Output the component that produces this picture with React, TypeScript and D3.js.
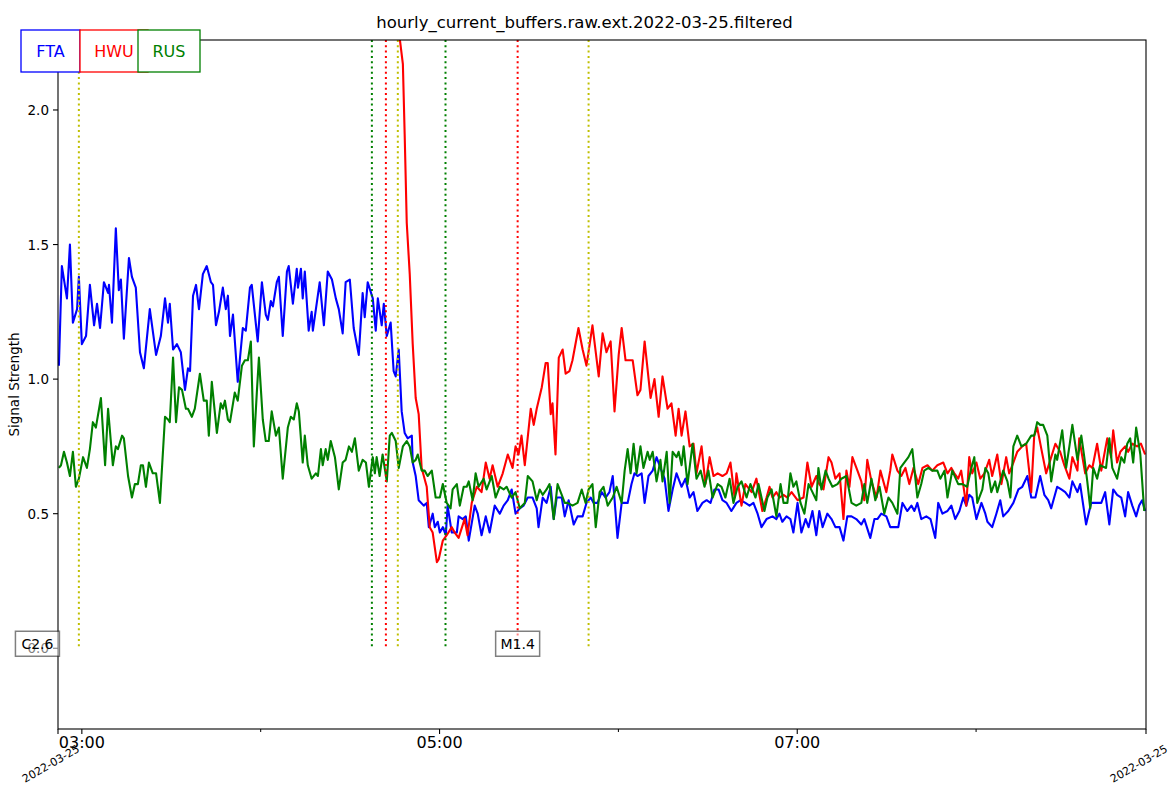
import * as d3 from 'd3';

const TITLE = 'hourly_current_buffers.raw.ext.2022-03-25.filtered';
const Y_LABEL = 'Signal Strength';

// readings are [minutes after START, signal strength]
const START = Date.UTC(2022, 2, 25, 2, 52);
const END_MIN = 365;

const FTA: [number, number][] = [
  [0.3,1.05],[1.3,1.42],[3,1.30],[4,1.50],[5,1.21],[6.4,1.26],[7,1.38],[8,1.13],[9.4,1.16],[10.7,1.35],[12.1,1.20],[13.1,1.28],[14.1,1.19],[15.4,1.36],[16.8,1.32],[17.1,1.35],[18.1,1.21],[19.4,1.56],[20.4,1.33],[21.1,1.37],[22.1,1.15],[23.8,1.45],[24.8,1.38],[26.1,1.34],[27.5,1.10],[28.8,1.04],[30.8,1.26],[32.9,1.09],[34.5,1.16],[35.9,1.30],[36.9,1.21],[37.5,1.28],[38.6,1.11],[39.9,1.13],[41.2,1.10],[42.6,0.96],[43.6,1.04],[44.3,1.03],[45.3,1.31],[46.3,1.35],[47.3,1.26],[48.6,1.39],[49.9,1.42],[51.3,1.36],[52.0,1.35],[53.0,1.20],[54.0,1.25],[55.3,1.34],[56.3,1.26],[57.0,1.31],[57.7,1.16],[58.7,1.24],[60.3,0.99],[62.0,1.19],[63.0,1.18],[64.4,1.34],[65.0,1.35],[67.0,1.14],[68.4,1.36],[69.7,1.24],[70.4,1.22],[71.4,1.29],[72.1,1.27],[73.4,1.36],[74.1,1.38],[75.4,1.16],[76.8,1.40],[77.4,1.42],[78.8,1.28],[80.1,1.41],[80.5,1.34],[81.5,1.41],[82.1,1.30],[82.8,1.40],[84.1,1.18],[85.1,1.25],[85.5,1.18],[87.8,1.36],[89.2,1.20],[90.5,1.40],[91.9,1.37],[93.2,1.30],[94.2,1.26],[95.5,1.17],[96.5,1.36],[97.9,1.37],[99.2,1.19],[100.9,1.09],[102.2,1.32],[102.9,1.23],[103.9,1.36],[105.6,1.30],[106.6,1.18],[107.3,1.30],[108.6,1.20],[109.3,1.28],[110.3,1.16],[111.6,1.21],[112.6,1.03],[113.3,1.01],[114.3,1.11],[115.3,0.88],[116.3,0.80],[117.3,0.78],[118.7,0.79],[119.0,0.69],[120.0,0.64],[121.0,0.55],[122.7,0.53],[123.7,0.54],[124.4,0.45],[125.7,0.50],[126.4,0.45],[127.4,0.47],[128.1,0.43],[129.1,0.45],[130.1,0.42],[130.7,0.53],[132.1,0.43],[133.8,0.43],[134.4,0.49],[135.8,0.48],[136.8,0.49],[137.8,0.40],[139.8,0.53],[140.8,0.50],[142.1,0.42],[143.5,0.49],[144.8,0.43],[146.5,0.53],[148.2,0.50],[149.5,0.53],[150.9,0.55],[152.2,0.59],[153.5,0.50],[154.9,0.52],[156.2,0.53],[157.6,0.56],[159.2,0.56],[160.6,0.52],[161.2,0.45],[162.6,0.56],[163.9,0.54],[165.3,0.60],[166.3,0.48],[167.3,0.56],[169.0,0.56],[170.0,0.49],[171.3,0.55],[173.0,0.46],[174.3,0.49],[176.0,0.49],[177.3,0.54],[178.7,0.56],[179.7,0.54],[181.0,0.54],[182.4,0.58],[183.7,0.56],[185.0,0.58],[186.1,0.64],[187.7,0.41],[189.1,0.54],[189.7,0.54],[191.1,0.54],[192.4,0.61],[193.4,0.65],[194.4,0.64],[195.8,0.65],[196.8,0.54],[198.1,0.64],[199.5,0.66],[200.8,0.71],[202.1,0.67],[203.5,0.63],[204.8,0.51],[206.2,0.59],[207.5,0.65],[209.2,0.60],[210.5,0.63],[211.9,0.56],[213.2,0.58],[214.5,0.51],[216.2,0.54],[217.6,0.55],[218.9,0.54],[220.2,0.59],[221.6,0.59],[222.9,0.55],[224.3,0.54],[225.9,0.51],[227.6,0.54],[229.0,0.55],[230.6,0.54],[232.0,0.53],[233.3,0.54],[234.7,0.50],[236.0,0.45],[237.7,0.48],[239.7,0.49],[241.0,0.48],[242.0,0.50],[243.0,0.47],[244.4,0.49],[245.7,0.48],[246.7,0.43],[248.1,0.54],[249.4,0.43],[250.8,0.48],[251.8,0.45],[253.1,0.51],[254.4,0.42],[255.4,0.51],[256.5,0.45],[258.1,0.50],[259.5,0.48],[260.8,0.45],[262.2,0.45],[263.5,0.40],[264.8,0.49],[266.2,0.49],[267.8,0.48],[269.5,0.46],[270.5,0.48],[272.5,0.41],[273.9,0.48],[274.9,0.48],[276.2,0.50],[277.9,0.49],[279.2,0.45],[280.9,0.45],[281.9,0.45],[283.3,0.54],[284.9,0.51],[286.3,0.53],[287.3,0.51],[288.3,0.54],[289.6,0.48],[291.3,0.49],[292.7,0.48],[294.3,0.41],[295.3,0.54],[296.7,0.50],[298.4,0.51],[299.7,0.53],[301.0,0.48],[302.4,0.51],[303.7,0.56],[304.7,0.53],[305.7,0.57],[306.7,0.56],[308.1,0.48],[309.8,0.54],[311.1,0.50],[311.8,0.47],[313.4,0.45],[314.8,0.50],[316.1,0.55],[317.1,0.49],[318.8,0.51],[320.5,0.54],[322.2,0.59],[323.5,0.60],[325.2,0.64],[326.5,0.56],[327.9,0.56],[329.5,0.64],[330.9,0.57],[332.2,0.55],[333.2,0.52],[335.2,0.60],[336.6,0.59],[337.9,0.58],[339.3,0.56],[340.3,0.62],[342.0,0.58],[342.9,0.61],[344.9,0.46],[346.6,0.54],[348.3,0.54],[350.0,0.54],[351.3,0.58],[352.7,0.46],[354.0,0.59],[355.3,0.57],[356.7,0.56],[358.0,0.49],[359.0,0.58],[360.4,0.53],[361.7,0.49],[362.7,0.53],[363.7,0.55],[364.7,0.51],
];

const HWU: [number, number][] = [
  [113,3.2],[114.6,2.27],[115.7,2.17],[116.3,1.91],[117.0,1.58],[118.0,1.39],[119.0,1.13],[120.0,0.93],[121.0,0.87],[122.0,0.67],[123.7,0.60],[124.7,0.45],[125.7,0.43],[127.1,0.32],[127.7,0.33],[129.1,0.40],[130.4,0.42],[132.1,0.45],[133.1,0.43],[134.4,0.41],[136.4,0.48],[137.4,0.42],[138.8,0.54],[140.5,0.60],[142.1,0.58],[143.5,0.69],[144.8,0.63],[145.8,0.68],[147.5,0.60],[149.2,0.65],[150.9,0.72],[152.5,0.67],[153.5,0.75],[154.5,0.72],[155.5,0.79],[156.6,0.68],[158.6,0.89],[159.6,0.83],[160.6,0.89],[162.3,0.97],[163.6,1.06],[164.3,1.06],[165.3,0.87],[165.9,0.91],[166.9,0.72],[168.0,1.08],[169.3,1.11],[170.3,1.02],[171.6,1.03],[172.6,1.07],[174.6,1.19],[176.0,1.11],[177.3,1.05],[179.3,1.20],[181.4,1.01],[182.7,1.17],[184.0,1.10],[185.4,1.14],[186.7,0.88],[188.1,1.09],[189.1,1.19],[190.4,1.07],[191.8,1.07],[192.8,1.07],[194.4,0.94],[195.4,0.96],[196.8,1.14],[198.8,0.93],[200.1,1.00],[201.5,0.86],[202.8,1.01],[204.5,0.89],[205.8,0.91],[207.2,0.79],[208.2,0.89],[209.2,0.79],[210.5,0.88],[211.9,0.75],[213.2,0.76],[214.2,0.65],[215.9,0.75],[217.2,0.61],[218.6,0.71],[219.9,0.64],[221.3,0.65],[222.9,0.64],[224.3,0.65],[225.6,0.69],[227.0,0.56],[227.6,0.65],[229.3,0.53],[230.6,0.61],[232.7,0.58],[234.3,0.63],[236.3,0.51],[237.7,0.56],[238.7,0.60],[239.7,0.56],[241.0,0.58],[242.0,0.56],[243.4,0.57],[244.7,0.56],[246.1,0.58],[248.1,0.55],[250.1,0.56],[251.4,0.69],[252.8,0.60],[254.4,0.64],[255.4,0.61],[256.8,0.59],[258.5,0.71],[259.5,0.69],[260.8,0.63],[262.2,0.65],[263.5,0.48],[264.5,0.66],[265.5,0.60],[266.5,0.71],[268.2,0.66],[269.5,0.62],[270.5,0.55],[271.5,0.70],[272.9,0.62],[274.6,0.56],[275.9,0.66],[277.9,0.58],[279.2,0.66],[279.9,0.72],[281.6,0.66],[282.9,0.64],[284.3,0.67],[285.6,0.61],[287.0,0.67],[288.6,0.61],[290.0,0.67],[291.7,0.68],[293.3,0.66],[295.0,0.68],[297.0,0.69],[298.4,0.65],[299.7,0.67],[300.7,0.65],[302.0,0.63],[303.0,0.66],[304.7,0.53],[305.7,0.71],[306.7,0.65],[308.1,0.69],[309.4,0.63],[310.8,0.65],[312.4,0.70],[313.4,0.64],[315.1,0.72],[316.5,0.61],[318.1,0.71],[319.1,0.65],[320.5,0.69],[321.8,0.73],[323.5,0.75],[324.8,0.76],[325.8,0.66],[326.5,0.58],[327.5,0.79],[328.5,0.82],[329.9,0.74],[331.5,0.65],[333.2,0.71],[334.6,0.76],[336.2,0.73],[337.6,0.68],[339.3,0.63],[340.3,0.71],[342.0,0.66],[342.6,0.78],[344.6,0.65],[346.0,0.68],[347.0,0.67],[348.6,0.76],[350.0,0.66],[352.0,0.78],[353.3,0.71],[354.0,0.81],[355.3,0.69],[356.4,0.73],[358.0,0.75],[359.0,0.73],[360.4,0.76],[362.0,0.75],[363.3,0.76],[364.7,0.72],
];

const RUS: [number, number][] = [
  [0.3,0.67],[1.0,0.68],[2.0,0.73],[3.0,0.69],[4.0,0.64],[5.0,0.73],[6.0,0.60],[7.0,0.63],[8.4,0.71],[9.7,0.67],[10.7,0.74],[11.7,0.84],[12.7,0.82],[14.4,0.93],[15.8,0.68],[16.8,0.89],[18.4,0.68],[19.4,0.75],[20.1,0.74],[21.5,0.79],[22.1,0.78],[23.5,0.64],[24.8,0.56],[25.8,0.61],[26.8,0.61],[27.8,0.68],[28.5,0.68],[29.5,0.60],[30.5,0.69],[31.8,0.65],[32.9,0.65],[34.2,0.54],[35.9,0.86],[36.9,0.85],[37.5,0.84],[38.6,1.08],[39.6,0.84],[40.6,0.97],[41.6,0.96],[42.9,0.89],[43.6,0.89],[44.9,0.86],[45.9,0.89],[47.6,1.02],[48.9,0.92],[49.9,0.92],[50.6,0.79],[51.6,0.99],[53.3,0.80],[54.6,0.91],[55.3,0.89],[56.0,0.92],[57.0,0.85],[57.7,0.84],[59.3,0.95],[60.3,0.92],[61.7,1.05],[62.7,1.07],[63.7,1.07],[64.7,1.14],[65.7,0.75],[66.7,0.95],[67.4,1.08],[68.7,0.85],[69.7,0.77],[70.7,0.77],[71.7,0.88],[73.1,0.79],[74.1,0.82],[75.4,0.63],[77.1,0.82],[78.1,0.86],[79.1,0.85],[80.1,0.91],[80.8,0.88],[82.1,0.69],[82.8,0.79],[83.8,0.68],[85.1,0.63],[86.5,0.65],[87.2,0.64],[88.2,0.74],[88.8,0.68],[89.8,0.74],[90.5,0.70],[91.5,0.77],[92.9,0.71],[94.2,0.59],[95.5,0.69],[96.5,0.70],[97.6,0.75],[98.6,0.73],[99.6,0.78],[100.9,0.66],[102.2,0.70],[103.3,0.69],[104.3,0.60],[105.6,0.71],[106.3,0.65],[106.9,0.71],[107.9,0.64],[108.9,0.72],[110.3,0.62],[111.3,0.79],[112.0,0.80],[113.3,0.77],[114.3,0.67],[115.7,0.75],[117.0,0.77],[118.0,0.75],[119.0,0.69],[120.0,0.70],[120.7,0.72],[122.0,0.66],[123.0,0.66],[124.0,0.64],[125.4,0.66],[126.7,0.56],[128.1,0.56],[129.1,0.61],[130.4,0.54],[131.7,0.52],[132.4,0.59],[133.8,0.61],[134.8,0.53],[136.1,0.60],[137.1,0.60],[137.8,0.62],[139.1,0.55],[140.1,0.65],[141.1,0.60],[142.8,0.63],[143.8,0.59],[145.5,0.64],[146.8,0.56],[148.2,0.60],[149.5,0.59],[150.5,0.60],[152.2,0.56],[153.5,0.58],[154.9,0.52],[156.6,0.54],[157.6,0.64],[159.2,0.62],[160.6,0.55],[161.6,0.59],[162.6,0.57],[163.9,0.59],[164.9,0.61],[166.3,0.48],[167.6,0.61],[169.0,0.57],[170.0,0.54],[171.0,0.54],[172.6,0.53],[174.3,0.54],[175.7,0.59],[177.0,0.54],[178.0,0.59],[179.3,0.61],[180.4,0.45],[181.7,0.58],[183.0,0.60],[184.4,0.53],[186.1,0.56],[187.4,0.60],[189.1,0.54],[190.1,0.66],[191.1,0.74],[192.1,0.65],[193.1,0.76],[194.1,0.65],[195.4,0.75],[196.4,0.67],[197.8,0.73],[198.5,0.70],[199.5,0.73],[200.8,0.62],[202.1,0.70],[202.8,0.62],[204.2,0.73],[205.2,0.54],[206.2,0.73],[207.5,0.71],[208.2,0.73],[209.2,0.68],[209.9,0.75],[211.2,0.61],[212.9,0.76],[214.2,0.63],[215.6,0.66],[216.9,0.60],[218.2,0.66],[219.6,0.56],[221.3,0.61],[222.6,0.60],[223.9,0.56],[225.3,0.63],[226.6,0.54],[228.0,0.60],[229.3,0.62],[231.0,0.56],[232.3,0.61],[234.0,0.56],[235.0,0.61],[237.0,0.51],[238.0,0.56],[239.4,0.59],[241.0,0.49],[242.4,0.61],[243.4,0.54],[244.7,0.54],[245.7,0.65],[246.7,0.60],[247.7,0.62],[249.1,0.54],[250.4,0.50],[251.8,0.61],[253.1,0.58],[254.4,0.55],[255.1,0.67],[256.1,0.59],[257.5,0.66],[258.5,0.63],[259.8,0.60],[261.5,0.61],[262.8,0.63],[264.5,0.64],[266.2,0.54],[267.8,0.53],[269.5,0.54],[270.5,0.61],[271.5,0.54],[272.9,0.63],[274.2,0.55],[275.6,0.60],[277.2,0.50],[278.6,0.56],[279.9,0.54],[281.6,0.50],[282.6,0.67],[283.9,0.69],[285.3,0.71],[286.6,0.74],[288.3,0.56],[289.6,0.61],[290.6,0.66],[292.0,0.67],[293.3,0.66],[295.0,0.66],[296.0,0.63],[297.4,0.66],[298.4,0.56],[300.0,0.66],[302.0,0.61],[303.4,0.61],[305.0,0.60],[306.4,0.67],[307.4,0.71],[308.4,0.54],[310.1,0.59],[311.1,0.67],[312.1,0.65],[313.1,0.58],[314.4,0.62],[315.1,0.58],[317.1,0.66],[318.5,0.62],[319.5,0.56],[320.5,0.75],[321.8,0.79],[323.2,0.75],[324.8,0.76],[326.5,0.79],[327.5,0.79],[328.5,0.84],[329.5,0.83],[330.5,0.83],[331.9,0.79],[333.2,0.62],[334.6,0.72],[335.2,0.70],[336.9,0.81],[338.2,0.67],[339.3,0.75],[340.3,0.83],[342.0,0.70],[343.3,0.79],[344.3,0.71],[345.3,0.62],[346.3,0.52],[347.3,0.67],[348.6,0.63],[349.6,0.68],[351.6,0.67],[352.7,0.78],[353.7,0.67],[355.3,0.63],[356.7,0.71],[357.7,0.69],[358.7,0.76],[359.7,0.78],[360.7,0.69],[361.7,0.82],[363.1,0.72],[364.4,0.51],
];

const STATIONS = ['FTA', 'HWU', 'RUS'];
const STATION_COLORS = ['#0000ff', '#ff0000', '#008000'];

// event markers (minutes after START) drawn as dotted lines
const EVENT_MIN = [7, 105.3, 110, 114, 130, 154.2, 178];
const EVENT_COLORS = ['#bfbf00', '#008000', '#ff0000', '#bfbf00', '#008000', '#ff0000', '#bfbf00'];

// flare class labels
const FLARE_NAMES = ['C2.6', 'M1.4'];
const FLARE_MIN = [-6.9, 154.2];

const Y_TICKS = [0, 0.5, 1.0, 1.5, 2.0];
const MAJOR_HOURS = [3, 5, 7];
const MINOR_HOURS = [4, 6, 8];

const W = 1169;
const H = 792;
const M = { top: 40, right: 23, bottom: 63, left: 58 };
const FONT = 'DejaVu Sans, sans-serif';

const toDate = (m: number) => new Date(START + m * 60000);
const hourDate = (h: number) => new Date(Date.UTC(2022, 2, 25, h, 0));

export default function App() {
  const x = d3.scaleUtc().domain([toDate(0), toDate(END_MIN)]).range([M.left, W - M.right]);
  const y = d3.scaleLinear().domain([-0.3, 2.26]).range([H - M.bottom, M.top]);
  const [x0, x1] = x.range();
  const [yb, yt] = y.range();

  const line = d3
    .line<[number, number]>()
    .x((d) => x(toDate(d[0])))
    .y((d) => y(d[1]));

  const series = [FTA, HWU, RUS];
  const fmtHour = d3.utcFormat('%H:%M');
  const fmtDay = d3.utcFormat('%Y-%m-%d');

  // legend boxes: [left, right]
  const legendBoxes = [
    [21, 80],
    [80, 148],
    [138, 200],
  ];

  return (
    <svg
      width={W}
      height={H}
      style={{ position: 'absolute', left: 0, top: 0, background: '#fff' }}
      fontFamily={FONT}
    >
      <defs>
        <clipPath id="plot">
          <rect x={x0} y={yt} width={x1 - x0} height={yb - yt} />
        </clipPath>
      </defs>

      <text x={584.5} y={28} textAnchor="middle" fontSize={16.5}>
        {TITLE}
      </text>

      <g clipPath="url(#plot)">
        {series.map((s, i) => (
          <path
            key={STATIONS[i]}
            d={line(s) ?? ''}
            fill="none"
            stroke={STATION_COLORS[i]}
            strokeWidth={2.1}
            strokeLinejoin="round"
          />
        ))}
        {EVENT_MIN.map((m, i) => (
          <line
            key={i}
            x1={x(toDate(m))}
            x2={x(toDate(m))}
            y1={yt}
            y2={y(0)}
            stroke={EVENT_COLORS[i]}
            strokeWidth={2}
            strokeDasharray="2,3.3"
          />
        ))}
      </g>

      {/* spines */}
      <rect x={x0} y={yt} width={x1 - x0} height={yb - yt} fill="none" stroke="#000" strokeWidth={1.1} />

      {/* y axis */}
      {Y_TICKS.map((v) => (
        <g key={v}>
          <line x1={x0 - 5} x2={x0} y1={y(v)} y2={y(v)} stroke="#000" strokeWidth={1.1} />
          <text x={x0 - 9} y={y(v)} textAnchor="end" dominantBaseline="central" fontSize={13.5}>
            {v.toFixed(1)}
          </text>
        </g>
      ))}
      <text
        transform={`translate(14,${(yt + yb) / 2}) rotate(-90)`}
        textAnchor="middle"
        dominantBaseline="central"
        fontSize={13.5}
      >
        {Y_LABEL}
      </text>

      {/* x axis */}
      {MAJOR_HOURS.map((h) => (
        <g key={h}>
          <line x1={x(hourDate(h))} x2={x(hourDate(h))} y1={yb} y2={yb + 5} stroke="#000" strokeWidth={1.1} />
          <text x={x(hourDate(h))} y={yb + 19} textAnchor="middle" fontSize={16}>
            {fmtHour(hourDate(h))}
          </text>
        </g>
      ))}
      {MINOR_HOURS.map((h) => (
        <line key={h} x1={x(hourDate(h))} x2={x(hourDate(h))} y1={yb} y2={yb + 3} stroke="#000" strokeWidth={1} />
      ))}
      {[toDate(0), toDate(END_MIN)].map((d, i) => (
        <g key={i}>
          <line x1={x(d)} x2={x(d)} y1={yb} y2={yb + 5} stroke="#000" strokeWidth={1.1} />
          <text
            transform={`translate(${x(d) - 7},${yb + 35}) rotate(-30)`}
            textAnchor="middle"
            dominantBaseline="central"
            fontSize={11}
          >
            {fmtDay(d)}
          </text>
        </g>
      ))}

      {/* flare labels */}
      {FLARE_NAMES.map((name, i) => {
        const cx = x(toDate(FLARE_MIN[i]));
        const cy = y(0) - 4.5;
        return (
          <g key={name}>
            <rect
              x={cx - 22}
              y={cy - 12.5}
              width={44}
              height={25}
              fill="#fff"
              fillOpacity={0.5}
              stroke="#000"
              strokeOpacity={0.5}
              strokeWidth={1.5}
            />
            <text x={cx} y={cy} textAnchor="middle" dominantBaseline="central" fontSize={14}>
              {name}
            </text>
          </g>
        );
      })}

      {/* station legend boxes */}
      {STATIONS.map((s, i) => {
        const [l, r] = legendBoxes[i];
        return (
          <g key={s}>
            <rect x={l} y={30} width={r - l} height={42} fill="#fff" stroke={STATION_COLORS[i]} strokeWidth={1.3} />
            <text x={(l + r) / 2} y={51} textAnchor="middle" dominantBaseline="central" fontSize={16} fill={STATION_COLORS[i]}>
              {s}
            </text>
          </g>
        );
      })}
    </svg>
  );
}
